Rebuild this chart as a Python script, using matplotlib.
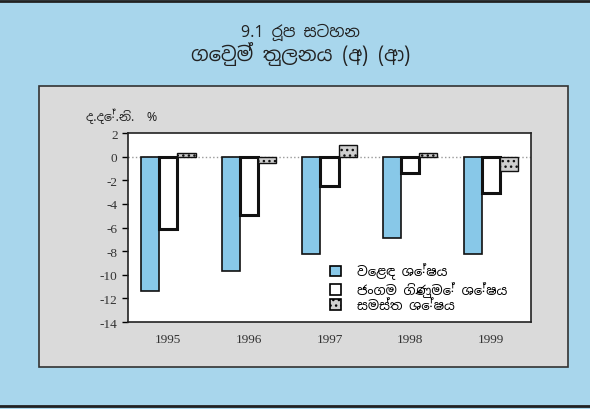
import matplotlib
matplotlib.use("Agg")
import matplotlib.pyplot as plt
import matplotlib.font_manager as fm
from matplotlib.patches import Rectangle
from matplotlib.lines import Line2D
import numpy as np

plt.rcParams['axes.unicode_minus'] = False
plt.rcParams['hatch.color'] = '#9a9a9a'

# pick a Sinhala font if one exists, fall back to DejaVu
sinhala = sorted({f.name for f in fm.fontManager.ttflist if 'Sinhala' in f.name})
si_fam = sinhala[:1] + ['DejaVu Sans']

# data (% of GDP)
years = ['1995', '1996', '1997', '1998', '1999']
trade = [-11.4, -9.7, -8.2, -6.9, -8.2]
current = [-6.1, -4.9, -2.5, -1.4, -3.1]
overall = [0.3, -0.5, 1.0, 0.3, -1.2]
labels = ['වෙළඳ ශේෂය', 'ජංගම ගිණුමේ ශේෂය', 'සමස්ත ශේෂය']
colors = ['#88c8e8', 'white', '#cfcfcf']

fig = plt.figure(figsize=(5.9, 4.1), dpi=100)
fig.patch.set_facecolor('#a8d6ec')

# grey panel behind the chart
panel = Rectangle((0.066, 0.102), 0.897, 0.685, transform=fig.transFigure,
                  facecolor='#dadada', edgecolor='#333333', linewidth=1.2, zorder=-10)
fig.add_artist(panel)
# dark rules top and bottom
fig.add_artist(Line2D([0, 1], [0.995, 0.995], color='#222222', linewidth=2))
fig.add_artist(Line2D([0, 1], [0.008, 0.008], color='#222222', linewidth=2))

ax = fig.add_axes([0.217, 0.212, 0.683, 0.461])
ax.set_facecolor('white')

x = np.arange(len(years))
w = 0.225
ax.bar(x - w, trade, w, color=colors[0], edgecolor='#111111', linewidth=1.2, zorder=2)
ax.bar(x, current, w, color=colors[1], edgecolor='#111111', linewidth=2.2, zorder=2)
ax.bar(x + w, overall, w, color=colors[2], edgecolor='#111111', linewidth=1.0,
       hatch='...', zorder=2)

ax.axhline(0, color='#999999', linestyle=':', linewidth=1, zorder=1)

ax.set_xlim(-0.5, len(years) - 0.5)
ax.set_ylim(-14, 2)
ax.set_yticks(np.arange(-14, 3, 2))
ax.set_yticklabels([str(v) for v in range(-14, 3, 2)], family='Liberation Serif',
                   fontsize=9.5, color='#333333')
ax.tick_params(axis='y', direction='out', length=4, width=1)
ax.set_xticks(x)
ax.set_xticklabels(years, family='Liberation Serif', fontsize=9.5, color='#333333')
ax.tick_params(axis='x', length=0, pad=8)
for s in ax.spines.values():
    s.set_linewidth(1.2)
    s.set_color('#222222')

handles = [Rectangle((0, 0), 1, 1, facecolor=c, edgecolor='black', linewidth=1.2)
           for c in colors]
handles[2].set_hatch('...')
ax.legend(handles, labels, loc='lower right', bbox_to_anchor=(0.97, -0.01), frameon=False,
          prop={'family': si_fam, 'size': 9.5}, handlelength=0.8, handleheight=0.8,
          labelspacing=0.15, handletextpad=1.2)

fig.text(0.145, 0.705, 'ද.දේ.නි.  %', family=si_fam, fontsize=9, color='#222222')
fig.text(0.51, 0.922, '9.1 රූප සටහන', family=si_fam, fontsize=11.5, fontweight='bold',
         ha='center', va='center', color='#222222')
fig.text(0.51, 0.868, 'ගෙවුම් තුලනය (අ) (ආ)', family=si_fam, fontsize=14, fontweight='bold',
         ha='center', va='center', color='#222222')

fig.savefig('out.png', dpi=100, facecolor=fig.get_facecolor())
